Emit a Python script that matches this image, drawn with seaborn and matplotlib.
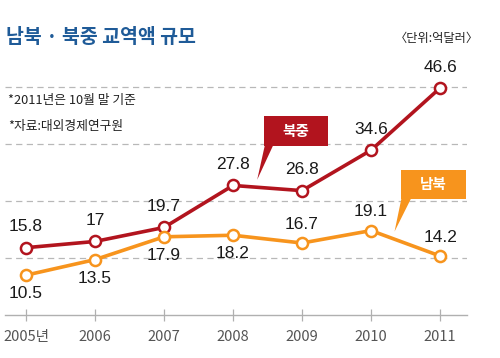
import numpy as np
import pandas as pd
import matplotlib
matplotlib.use("Agg")
import matplotlib.pyplot as plt
import seaborn as sns
from matplotlib.patches import Rectangle, Polygon

# Data (unit: 100 million USD)
years = ["2005년", "2006", "2007", "2008", "2009", "2010", "2011"]
nk_cn = [15.8, 17, 19.7, 27.8, 26.8, 34.6, 46.6]
nk_sk = [10.5, 13.5, 17.9, 18.2, 16.7, 19.1, 14.2]
nk_sk_label_below = [True, True, True, True, False, False, False]
grid_vals = [13.8, 24.8, 35.8, 46.8]

RED = "#b2141e"
ORANGE = "#f7941d"
TITLE_BLUE = "#1f5b98"

sns.set_theme(style="white")
plt.rcParams["font.family"] = ["Noto Sans CJK KR", "DejaVu Sans"]
NUM_FONT = ["Liberation Sans Narrow", "Liberation Sans", "DejaVu Sans"]

df = pd.DataFrame({"idx": np.arange(len(years)), "nk_cn": nk_cn, "nk_sk": nk_sk})

fig = plt.figure(figsize=(5, 3.58), dpi=100)
ax = fig.add_axes([0.01, 0.1201, 0.924, 0.7123])

for v in grid_vals:
    ax.axhline(v, color="#b8b8b8", lw=0.9, ls=(0, (5, 3.5)), zorder=0)

sns.lineplot(data=df, x="idx", y="nk_cn", ax=ax, color=RED, lw=2.6,
             marker="o", markersize=8, markerfacecolor="white",
             markeredgecolor=RED, markeredgewidth=1.8, zorder=3)
sns.lineplot(data=df, x="idx", y="nk_sk", ax=ax, color=ORANGE, lw=2.6,
             marker="o", markersize=8, markerfacecolor="white",
             markeredgecolor=ORANGE, markeredgewidth=1.8, zorder=3)

for i, v in enumerate(nk_cn):
    ax.annotate(f"{v:g}", (i, v), xytext=(0, 9.5), textcoords="offset points",
                ha="center", va="bottom", fontsize=12.5, color="#1a1a1a",
                family=NUM_FONT)
for i, v in enumerate(nk_sk):
    off = -8 if nk_sk_label_below[i] else 8
    ax.annotate(f"{v:g}", (i, v), xytext=(0, off), textcoords="offset points",
                ha="center", va="top" if nk_sk_label_below[i] else "bottom",
                fontsize=12.5, color="#1a1a1a", family=NUM_FONT)

# callout boxes
ax.add_patch(Rectangle((3.45, 35.4), 0.92, 5.8, color=RED, zorder=4, lw=0))
ax.add_patch(Polygon([(3.46, 35.5), (3.58, 35.5), (3.35, 28.9)], color=RED, zorder=4, lw=0))
ax.text(3.91, 38.3, "북중", color="white", fontsize=10.5, fontweight="bold",
        ha="center", va="center", zorder=5)

ax.add_patch(Rectangle((5.43, 25.2), 0.94, 5.6, color=ORANGE, zorder=4, lw=0))
ax.add_patch(Polygon([(5.44, 25.3), (5.58, 25.3), (5.34, 18.9)], color=ORANGE, zorder=4, lw=0))
ax.text(5.9, 28.0, "남북", color="white", fontsize=10.5, fontweight="bold",
        ha="center", va="center", zorder=5)

ax.set_xlim(-0.304, 6.39)
ax.set_ylim(2.82, 51.99)
ax.set_xticks(df["idx"])
ax.set_xticklabels(years, family=["Liberation Sans Narrow", "Noto Sans CJK KR", "DejaVu Sans"])
ax.set_yticks([])
ax.set_xlabel("")
ax.set_ylabel("")
ax.tick_params(axis="x", direction="inout", length=9, width=0.9, color="#b0b0b0",
               labelsize=10.5, labelcolor="#555555", pad=6, bottom=True)
for s in ["top", "right", "left"]:
    ax.spines[s].set_visible(False)
ax.spines["bottom"].set_color("#b0b0b0")
ax.spines["bottom"].set_linewidth(1.0)

fig.text(0.012, 0.895, "남북 · 북중 교역액 규모", fontsize=14, fontweight="bold",
         color=TITLE_BLUE, ha="left", va="center")
fig.text(0.958, 0.893, "〈단위:억달러〉", fontsize=8.8, color="#222222",
         ha="right", va="center")
fig.text(0.016, 0.718, "*2011년은 10월 말 기준", fontsize=9.2, color="#222222",
         ha="left", va="center")
fig.text(0.016, 0.648, "*자료:대외경제연구원", fontsize=9.2, color="#222222",
         ha="left", va="center")

fig.savefig("out.png", dpi=100)
